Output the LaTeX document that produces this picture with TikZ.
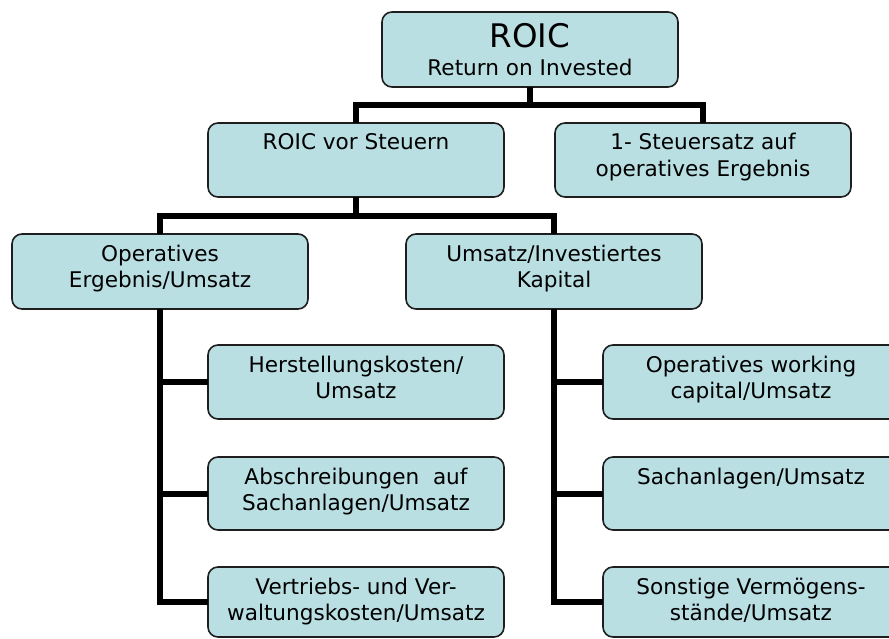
\documentclass[tikz,border=0pt]{standalone}
\usepackage{fontspec}
\setmainfont{DejaVu Sans}
\definecolor{boxfill}{HTML}{B9DFE3}
\definecolor{boxline}{HTML}{1E1E1E}
% box content: fixed-size parbox, text set from the top
\newcommand{\boxtxt}[2][74pt]{\parbox[c][#1][t]{296pt}{\centering\fontsize{21.6}{26.5}\selectfont\rule{0pt}{27pt}#2}}
\begin{document}
\begin{tikzpicture}[x=1pt,y=-1pt,
  kbox/.style={draw=boxline, line width=1.6pt, fill=boxfill, rounded corners=10pt,
    inner sep=0pt, outer sep=0pt, anchor=north west},
  bus/.style={draw=black, line width=6pt, line join=miter}]
\useasboundingbox (0,0) rectangle (889,639);
\clip (0,0) rectangle (889,639);

% top level
\node[kbox] (roic) at (382,12) {\parbox[c][75pt][t]{296pt}{\centering
  \fontsize{32.5}{32}\selectfont\rule{0pt}{36pt}ROIC\\[-1pt]
  \fontsize{21.6}{29}\selectfont Return on Invested}};

% second level
\node[kbox] (vst) at (208,123) {\boxtxt{ROIC vor Steuern}};
\node[kbox] (tax) at (555,123) {\boxtxt{1- Steuersatz auf\\operatives Ergebnis}};

% third level
\node[kbox] (ope) at (12,234) {\boxtxt[75pt]{Operatives\\Ergebnis/Umsatz}};
\node[kbox] (uik) at (406,234) {\boxtxt[75pt]{Umsatz/Investiertes\\Kapital}};

% cost drivers
\node[kbox] (h1) at (208,345) {\boxtxt{Herstellungskosten/\\Umsatz}};
\node[kbox] (h2) at (208,457) {\boxtxt[73pt]{Abschreibungen\ \ auf\\Sachanlagen/Umsatz}};
\node[kbox] (h3) at (208,567) {\boxtxt[70pt]{Vertriebs- und Ver-\\waltungskosten/Umsatz}};

% capital drivers
\node[kbox] (r1) at (603,345) {\boxtxt{Operatives working\\capital/Umsatz}};
\node[kbox] (r2) at (603,457) {\boxtxt[73pt]{Sachanlagen/Umsatz}};
\node[kbox] (r3) at (603,567) {\boxtxt[70pt]{Sonstige Vermögens-\\stände/Umsatz}};

% junction points of the horizontal bars
\coordinate (j1) at (530,105);
\coordinate (j2) at (358,216);

% connectors
\draw[bus] (roic.south) -- (roic.south |- j1);
\draw[bus] (vst.north) -- (vst.north |- j1) -- (tax.north |- j1) -- (tax.north);
\draw[bus] (vst.south) -- (vst.south |- j2);
\draw[bus] (ope.north) -- (ope.north |- j2) -- (uik.north |- j2) -- (uik.north);
\draw[bus] (ope.south) |- (h3.west);
\draw[bus] (ope.south |- h1.west) -- (h1.west);
\draw[bus] (ope.south |- h2.west) -- (h2.west);
\draw[bus] (uik.south) |- (r3.west);
\draw[bus] (uik.south |- r1.west) -- (r1.west);
\draw[bus] (uik.south |- r2.west) -- (r2.west);
\end{tikzpicture}
\end{document}
